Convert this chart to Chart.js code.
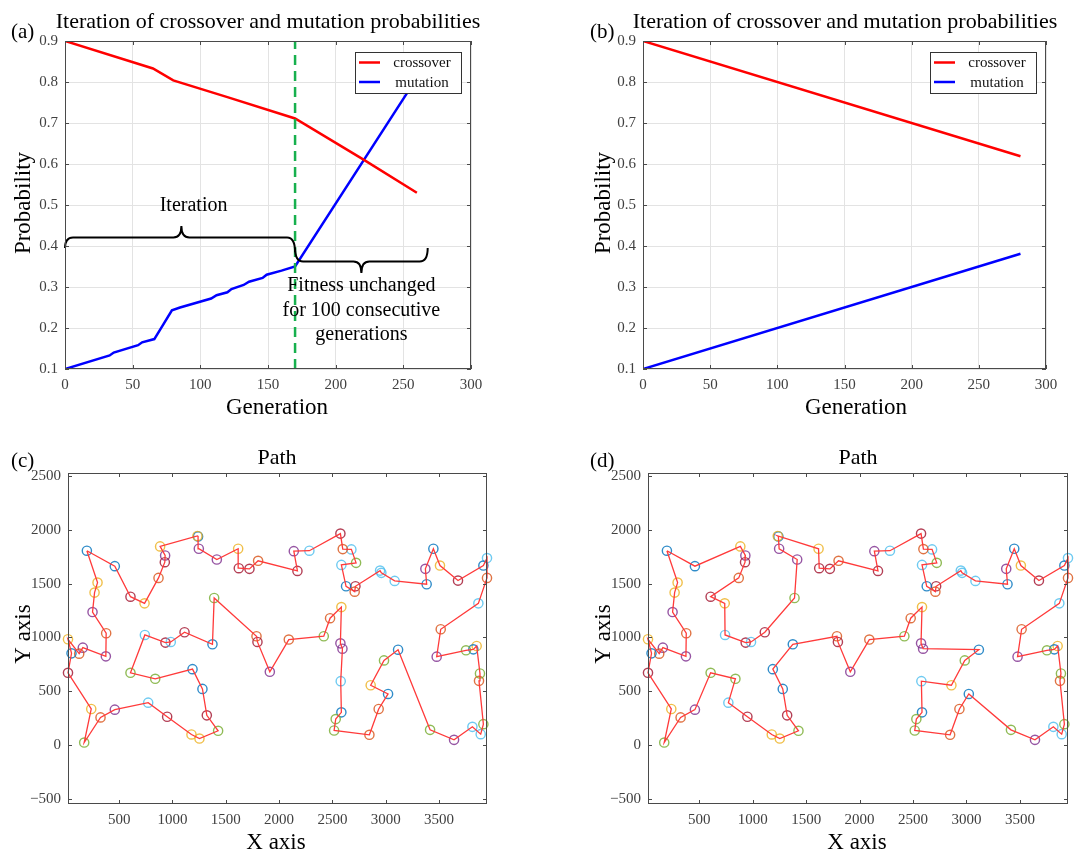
<!DOCTYPE html>
<html>
<head>
<meta charset="utf-8">
<script src="https://cdn.jsdelivr.net/npm/chart.js@4.4.0/dist/chart.umd.min.js"></script>
<style>
  body { margin: 0; background: #fff; width: 1085px; height: 854px; position: relative; overflow: hidden; }
  canvas { position: absolute; }
</style>
</head>
<body>
<canvas id="cA" width="540" height="430" style="left:0;top:0"></canvas>
<canvas id="cB" width="545" height="430" style="left:540px;top:0"></canvas>
<canvas id="cC" width="540" height="424" style="left:0;top:430px"></canvas>
<canvas id="cD" width="545" height="424" style="left:540px;top:430px"></canvas>
<script>
// ---- data (a): adaptive probabilities, stagnation after generation 170
const crossGenA = [0, 65, 80, 120, 170, 220, 260];
const crossProbA = [0.9, 0.833, 0.804, 0.763, 0.711, 0.612, 0.53];
const mutGenA = [0, 33, 36, 54, 57, 66, 72, 79, 85, 108, 112, 120, 123, 132, 136, 146, 149, 160, 170, 260];
const mutProbA = [0.1, 0.133, 0.14, 0.158, 0.165, 0.173, 0.205, 0.243, 0.25, 0.272, 0.28, 0.287, 0.295, 0.305, 0.313, 0.322, 0.33, 0.34, 0.35, 0.81];
const stagnationGen = 170;

// ---- data (b): linear schedule
const genB = [0, 281];
const crossProbB = [0.9, 0.619];
const mutProbB = [0.1, 0.381];

const genTicks = [0, 50, 100, 150, 200, 250, 300];
const probTicks = [0.1, 0.2, 0.3, 0.4, 0.5, 0.6, 0.7, 0.8, 0.9];
const pathXTicks = [500, 1000, 1500, 2000, 2500, 3000, 3500];
const pathYTicks = [-500, 0, 500, 1000, 1500, 2000, 2500];

// ---- cities, listed in the visiting order of route (c)
const cityX = [
  197, 297, 269, 250, 378, 375, 159, 125, 20, 53,
  20, 238, 172, 325, 459, 772, 950, 1178, 1253, 1428,
  1322, 1281, 1188, 838, 606, 741, 934, 984, 1113, 1375,
  1391, 1788, 1797, 1913, 2091, 2419, 2478, 2584, 2575, 2594,
  2578, 2584, 2531, 2516, 2847, 2934, 3022, 2859, 2984, 3116,
  3416, 3641, 3813, 3891, 3916, 3875, 3884, 3853, 3822, 3753,
  3478, 3516, 3869, 3950, 3950, 3916, 3678, 3509, 3447, 3372,
  3384, 3084, 2959, 2947, 2716, 2709, 2628, 2584, 2722, 2678,
  2597, 2575, 2284, 2138, 2172, 1803, 1722, 1622, 1616, 1416,
  1247, 1240, 1234, 884, 931, 928, 869, 738, 606, 459
];
const cityY = [
  1807, 1510, 1417, 1236, 1039, 824, 905, 849, 983, 852,
  671, 334, 22, 256, 328, 393, 262, 97, 59, 131,
  275, 521, 705, 615, 671, 1023, 952, 958, 1048, 936,
  1367, 1011, 958, 680, 980, 1011, 1179, 1282, 945, 895,
  593, 303, 240, 134, 94, 334, 474, 555, 786, 886,
  140, 47, 168, 100, 193, 596, 665, 920, 889, 880,
  821, 1076, 1317, 1554, 1738, 1669, 1529, 1669, 1825, 1638,
  1495, 1526, 1601, 1622, 1476, 1426, 1476, 1675, 1694, 1819,
  1822, 1966, 1807, 1803, 1619, 1713, 1638, 1644, 1825, 1725,
  1825, 1940, 1944, 1847, 1763, 1700, 1554, 1317, 1379, 1663
];
// route (d) as city indices
const routeD = [
  0, 99, 93, 94, 95, 96, 98, 97, 25, 26, 27, 28, 30, 89, 90, 91, 92, 88,
  87, 86, 85, 84, 83, 82, 81, 80, 79, 78, 77, 76, 75, 74,
  73, 72, 71, 70, 69, 68, 67, 66, 65, 64, 63, 62, 61, 60,
  59, 58, 57, 56, 55, 54, 53, 52, 51, 50,
  46, 45, 44, 43, 42, 41, 40, 47, 48, 49, 39, 38, 37, 36, 35, 34, 33, 32, 31,
  29, 22, 21, 20, 19, 18, 17, 16, 15,
  23, 24, 14, 13, 12, 11, 10, 9, 8, 7, 6, 5, 4, 3, 2, 1
];

// marker colours (matlab colour order), one key per city
const palette = { b: '#0072BD', o: '#D95319', y: '#EDB120', p: '#7E2F8E', g: '#77AC30', c: '#4DBEEE', r: '#A2142F' };
const cityColorKeys = [
  'b','y','y','p','o','p','p','o','y','b', 'r','y','g','o','p','c','r','y','y','g',
  'r','b','b','g','g','c','r','c','r','b', 'g','o','r','p','o','g','o','y','p','p',
  'c','b','g','g','o','o','b','y','g','b', 'g','p','c','c','g','o','g','y','b','g',
  'p','o','c','o','c','b','r','y','b','p', 'b','c','c','c','r','o','b','c','g','c',
  'o','r','c','p','r','o','r','r','y','p', 'p','b','y','y','p','r','o','y','r','b'
];

const SERIF = '"Liberation Serif", "Times New Roman", serif';
const TICK_COLOR = '#404040';
const BOX_COLOR = '#4a4a4a';
const TITLE_PROB = 'Iteration of crossover and mutation probabilities';

function axis(min, max, values, size, fmt, grid) {
  return {
    type: 'linear', min: min, max: max,
    afterBuildTicks: s => { s.ticks = values.map(v => ({ value: v })); },
    afterFit: s => { if (s.isHorizontal()) s.height = size; else s.width = size; },
    grid: { display: grid, color: '#e3e3e3', lineWidth: 1, drawTicks: false },
    border: { display: false },
    ticks: { color: TICK_COLOR, font: { family: SERIF, size: 15 }, padding: 7, maxRotation: 0, autoSkip: false, callback: fmt }
  };
}
const fmtProb = v => v.toFixed(1);
const fmtInt = v => (v < 0 ? '\u2212' + Math.abs(v) : String(v));

function pts(xs, ys) { return xs.map((x, i) => ({ x: x, y: ys[i] })); }

function drawBrace(ctx, x1, x2, xt, yEnd1, yEnd2, yBase, yTip) {
  const r = 8;
  ctx.beginPath();
  ctx.moveTo(x1, yEnd1);
  ctx.quadraticCurveTo(x1, yBase, x1 + r, yBase);
  ctx.lineTo(xt - r, yBase);
  ctx.quadraticCurveTo(xt, yBase, xt, yTip);
  ctx.quadraticCurveTo(xt, yBase, xt + r, yBase);
  ctx.lineTo(x2 - r, yBase);
  ctx.quadraticCurveTo(x2, yBase, x2, yEnd2);
  ctx.stroke();
}

const framePlugin = {
  id: 'frame',
  afterDatasetsDraw(chart, args, o) { if (o.annotate) o.annotate(chart); },
  afterDraw(chart, args, o) {
    const ctx = chart.ctx, a = chart.chartArea;
    const sx = chart.scales.x, sy = chart.scales.y;
    ctx.save();
    ctx.strokeStyle = BOX_COLOR;
    ctx.lineWidth = 1;
    ctx.beginPath();
    sx.ticks.forEach(t => {
      const p = Math.round(sx.getPixelForValue(t.value)) + 0.5;
      ctx.moveTo(p, a.bottom); ctx.lineTo(p, a.bottom - 4);
      ctx.moveTo(p, a.top); ctx.lineTo(p, a.top + 4);
    });
    sy.ticks.forEach(t => {
      const p = Math.round(sy.getPixelForValue(t.value)) + 0.5;
      ctx.moveTo(a.left, p); ctx.lineTo(a.left + 4, p);
      ctx.moveTo(a.right, p); ctx.lineTo(a.right - 4, p);
    });
    ctx.stroke();
    ctx.strokeRect(a.left + 0.5, a.top + 0.5, a.right - a.left - 1, a.bottom - a.top - 1);

    if (o.legend) {
      const items = chart.data.datasets.filter(d => o.legend.includes(d.label));
      const w = 106, h = 41, lx = a.right - 10 - w, ly = a.top + 11;
      ctx.fillStyle = '#fff';
      ctx.fillRect(lx, ly, w, h);
      ctx.strokeStyle = '#333';
      ctx.strokeRect(lx + 0.5, ly + 0.5, w, h);
      ctx.font = '15px ' + SERIF;
      ctx.textAlign = 'center';
      ctx.textBaseline = 'middle';
      items.forEach((d, i) => {
        const yy = ly + 10.5 + i * 19.5;
        ctx.strokeStyle = d.borderColor;
        ctx.lineWidth = 2.5;
        ctx.beginPath(); ctx.moveTo(lx + 4, yy); ctx.lineTo(lx + 25, yy); ctx.stroke();
        ctx.fillStyle = '#111';
        ctx.fillText(d.label, lx + 67, yy + 1);
      });
    }

    ctx.fillStyle = '#000';
    ctx.textBaseline = 'alphabetic';
    (o.texts || []).forEach(t => {
      ctx.font = t.size + 'px ' + SERIF;
      ctx.textAlign = t.align || 'center';
      if (t.rot) {
        ctx.save();
        ctx.translate(t.x, t.y);
        ctx.rotate(-Math.PI / 2);
        ctx.fillText(t.t, 0, 0);
        ctx.restore();
      } else {
        ctx.fillText(t.t, t.x, t.y);
      }
    });
    ctx.restore();
  }
};

function baseOptions(pad, scales, frame) {
  return {
    responsive: false, animation: false, devicePixelRatio: 1, events: [],
    layout: { padding: pad },
    scales: scales,
    plugins: { legend: { display: false }, tooltip: { enabled: false }, frame: frame }
  };
}

function lineSet(label, data, color, extra) {
  return Object.assign({
    label: label, data: data, showLine: true, borderColor: color, backgroundColor: color,
    borderWidth: 2.5, pointRadius: 0, tension: 0, fill: false, order: 1
  }, extra || {});
}

// ---- (a)
const braceIter = { from: 0, to: 170, tip: 86, base: 0.421, endL: 0.395, endR: 0.385, tipY: 0.449 };
const braceStag = { from: 170, to: 268, tip: 219, base: 0.362, endL: 0.395, endR: 0.395, tipY: 0.334 };
const notesA = [
  { t: 'Iteration', x: 95, y: 0.497 },
  { t: 'Fitness unchanged', x: 219, y: 0.303 },
  { t: 'for 100 consecutive', x: 219, y: 0.242 },
  { t: 'generations', x: 219, y: 0.183 }
];

function annotateA(chart) {
  const ctx = chart.ctx, sx = chart.scales.x, sy = chart.scales.y;
  ctx.save();
  ctx.strokeStyle = '#000';
  ctx.lineWidth = 2;
  [braceIter, braceStag].forEach(b => {
    drawBrace(ctx, sx.getPixelForValue(b.from), sx.getPixelForValue(b.to), sx.getPixelForValue(b.tip),
      sy.getPixelForValue(b.endL), sy.getPixelForValue(b.endR), sy.getPixelForValue(b.base), sy.getPixelForValue(b.tipY));
  });
  ctx.fillStyle = '#000';
  ctx.font = '20px ' + SERIF;
  ctx.textAlign = 'center';
  ctx.textBaseline = 'middle';
  notesA.forEach(n => ctx.fillText(n.t, sx.getPixelForValue(n.x), sy.getPixelForValue(n.y)));
  ctx.restore();
}

new Chart(document.getElementById('cA'), {
  type: 'scatter',
  data: {
    datasets: [
      lineSet('stagnation', [{ x: stagnationGen, y: probTicks[0] }, { x: stagnationGen, y: probTicks[probTicks.length - 1] }], '#17b04e', { borderDash: [10, 6], order: 0 }),
      lineSet('crossover', pts(crossGenA, crossProbA), '#ff0000'),
      lineSet('mutation', pts(mutGenA, mutProbA), '#0000ff')
    ]
  },
  options: baseOptions({ left: 0, top: 41, right: 69, bottom: 0 }, {
    x: axis(0, 300, genTicks, 61, fmtInt, true),
    y: axis(0.1, 0.9, probTicks, 65, fmtProb, true)
  }, {
    legend: ['crossover', 'mutation'],
    annotate: annotateA,
    texts: [
      { t: '(a)', x: 11, y: 38, size: 21, align: 'left' },
      { t: TITLE_PROB, x: 268, y: 28, size: 22 },
      { t: 'Probability', x: 30, y: 203, size: 23, rot: true },
      { t: 'Generation', x: 277, y: 414, size: 23 }
    ]
  }),
  plugins: [framePlugin]
});

// ---- (b)
new Chart(document.getElementById('cB'), {
  type: 'scatter',
  data: {
    datasets: [
      lineSet('crossover', pts(genB, crossProbB), '#ff0000'),
      lineSet('mutation', pts(genB, mutProbB), '#0000ff')
    ]
  },
  options: baseOptions({ left: 0, top: 41, right: 39, bottom: 0 }, {
    x: axis(0, 300, genTicks, 61, fmtInt, true),
    y: axis(0.1, 0.9, probTicks, 103, fmtProb, true)
  }, {
    legend: ['crossover', 'mutation'],
    texts: [
      { t: '(b)', x: 50, y: 38, size: 21, align: 'left' },
      { t: TITLE_PROB, x: 305, y: 28, size: 22 },
      { t: 'Probability', x: 70, y: 203, size: 23, rot: true },
      { t: 'Generation', x: 316, y: 414, size: 23 }
    ]
  }),
  plugins: [framePlugin]
});

// ---- (c) and (d): city tours
function pathChart(id, route, pad, yWidth, texts) {
  const tour = route.map(i => ({ x: cityX[i], y: cityY[i] }));
  tour.push(tour[0]);
  new Chart(document.getElementById(id), {
    type: 'scatter',
    data: {
      datasets: [
        lineSet('route', tour, '#ff3a3a', { borderWidth: 1.3, order: 0, clip: false }),
        {
          label: 'cities', data: pts(cityX, cityY), showLine: false, order: 1, clip: false,
          pointStyle: 'circle', pointRadius: 4.6, pointBorderWidth: 1.4,
          pointBackgroundColor: 'rgba(0,0,0,0)',
          pointBorderColor: cityColorKeys.map(k => palette[k] + 'd0')
        }
      ]
    },
    options: baseOptions(pad, {
      x: Object.assign(axis(20, 3950, pathXTicks, 50, fmtInt, false), {}),
      y: axis(-550, 2530, pathYTicks, yWidth, fmtInt, false)
    }, { texts: texts }),
    plugins: [framePlugin]
  });
}

const routeC = cityX.map((x, i) => i);
pathChart('cC', routeC, { left: 0, top: 43, right: 53, bottom: 0 }, 68, [
  { t: '(c)', x: 11, y: 37, size: 21, align: 'left' },
  { t: 'Path', x: 277, y: 34, size: 22 },
  { t: 'Y axis', x: 30, y: 204, size: 23, rot: true },
  { t: 'X axis', x: 276, y: 419, size: 23 }
]);
pathChart('cD', routeD, { left: 0, top: 43, right: 17, bottom: 0 }, 108, [
  { t: '(d)', x: 50, y: 37, size: 21, align: 'left' },
  { t: 'Path', x: 318, y: 34, size: 22 },
  { t: 'Y axis', x: 70, y: 204, size: 23, rot: true },
  { t: 'X axis', x: 317, y: 419, size: 23 }
]);
</script>
</body>
</html>
